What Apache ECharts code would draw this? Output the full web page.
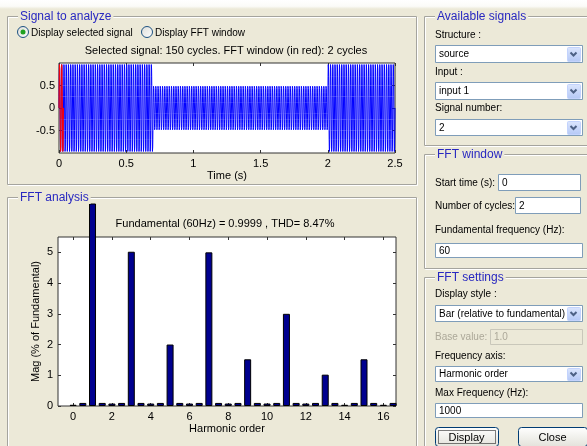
<!DOCTYPE html>
<html>
<head>
<meta charset="utf-8">
<script src="https://cdn.jsdelivr.net/npm/echarts@6/dist/echarts.min.js"></script>
<style>
html, body { margin: 0; padding: 0; background: #ECE9D8; }
#chart { width: 587px; height: 446px; }
</style>
</head>
<body>
<div id="chart"></div>
<script>
// selected signal: piecewise amplitude of the 60 Hz wave
const segStart = [0, 0.7, 2.0];
const segEnd = [0.7, 2.0, 2.5];
const segAmp = [1, 0.5, 1];
const fundHz = 60;
const fftCycles = 2;
const sigTicks = [-0.5, 0, 0.5];

// FFT analysis: harmonic order and magnitude (% of fundamental)
const harmOrder = [0, 0.5, 1, 1.5, 2, 2.5, 3, 3.5, 4, 4.5, 5, 5.5, 6, 6.5, 7, 7.5, 8, 8.5,
    9, 9.5, 10, 10.5, 11, 11.5, 12, 12.5, 13, 13.5, 14, 14.5, 15, 15.5, 16, 16.5];
const harmMag = [0.04, 0.1, 100, 0.1, 0.08, 0.1, 5.02, 0.1, 0.08, 0.1, 2.0, 0.1, 0.08, 0.1,
    5.0, 0.1, 0.08, 0.1, 1.52, 0.1, 0.08, 0.1, 3.0, 0.1, 0.08, 0.1, 1.02, 0.1, 0.04, 0.1,
    1.52, 0.1, 0.04, 0.1];
const harmTicks = [0, 2, 4, 6, 8, 10, 12, 14, 16];
const magTicks = [0, 1, 2, 3, 4, 5];

const FONT = '"Liberation Sans", Arial, sans-serif';
const GUI = '10px ' + FONT;
const BEIGE = '#ECE9D8';

// sine samples for the signal plot
const sps = 24;
function wave(t0, t1, amp) {
    const pts = [];
    const dt = 1 / (fundHz * sps);
    for (let t = t0; t <= t1 + 1e-9; t += dt) {
        pts.push([t, amp * Math.sin(2 * Math.PI * fundHz * t)]);
    }
    return pts;
}
let sigData = [];
segStart.forEach((s, i) => { sigData = sigData.concat(wave(s, segEnd[i], segAmp[i])); });
const winData = wave(0, fftCycles / fundHz, segAmp[0]);

// ---- GUI decoration helpers ----
function text(x, y, str, opt) {
    return {
        type: 'text', x: x, y: y, silent: true, z: 10,
        style: Object.assign({ text: str, font: GUI, fill: '#000', verticalAlign: 'middle' }, opt || {})
    };
}
function panel(x, y, w, h, title) {
    return [
        { type: 'rect', silent: true, shape: { x: x + 1.5, y: y + 1.5, width: w, height: h }, style: { fill: null, stroke: '#fff' } },
        { type: 'rect', silent: true, shape: { x: x + 0.5, y: y + 0.5, width: w, height: h }, style: { fill: null, stroke: '#A5A49E' } },
        text(x + 11, y + 1, title, { font: '12px ' + FONT, fill: '#2828C0', backgroundColor: BEIGE, padding: [0, 2] })
    ];
}
function editBox(x, y, w, h, str, disabled) {
    return [
        { type: 'rect', silent: true, shape: { x: x + 0.5, y: y + 0.5, width: w, height: h },
          style: { fill: disabled ? BEIGE : '#fff', stroke: disabled ? '#C9C7BA' : '#7F9DB9' } },
        text(x + 4, y + h / 2 + 1, str, { fill: disabled ? '#ACA899' : '#000' })
    ];
}
function dropdown(x, y, w, h, str) {
    const bx = x + w - 15, by = y + 2, bw = 13, bh = h - 3;
    const cx = bx + bw / 2, cy = by + bh / 2;
    return editBox(x, y, w, h, str).concat([
        { type: 'rect', silent: true, shape: { x: bx + 0.5, y: by + 0.5, width: bw, height: bh, r: 1 },
          style: { fill: new echarts.graphic.LinearGradient(0, 0, 0, 1, [{ offset: 0, color: '#DCE6FD' }, { offset: 1, color: '#B4C8F6' }]), stroke: '#C3D3FD' } },
        { type: 'polyline', silent: true, shape: { points: [[cx - 3, cy - 1.5], [cx, cy + 1.5], [cx + 3, cy - 1.5]] },
          style: { stroke: '#4D6185', lineWidth: 2, fill: null } }
    ]);
}
function radio(cx, cy, str, on) {
    const els = [
        { type: 'circle', silent: true, shape: { cx: cx, cy: cy, r: 5.5 },
          style: { fill: new echarts.graphic.LinearGradient(0, 0, 1, 1, [{ offset: 0, color: '#DCDCD7' }, { offset: 1, color: '#fff' }]), stroke: '#1C5180' } },
        text(cx + 8, cy + 1, str)
    ];
    if (on) els.push({ type: 'circle', silent: true, shape: { cx: cx, cy: cy, r: 2.5 }, style: { fill: '#21A121' } });
    return els;
}
function button(x, y, w, h, str, focus) {
    const els = [
        { type: 'rect', silent: true, shape: { x: x + 0.5, y: y + 0.5, width: w, height: h, r: 3 },
          style: { fill: new echarts.graphic.LinearGradient(0, 0, 0, 1, [{ offset: 0, color: '#FFFFFF' }, { offset: 1, color: '#E3E2DA' }]), stroke: '#003C74' } },
        text(x + w / 2, y + h / 2 + 1, str, { align: 'center', font: '11px ' + FONT })
    ];
    if (focus) els.push({ type: 'rect', silent: true, shape: { x: x + 3.5, y: y + 3.5, width: w - 6, height: h - 6 },
        style: { fill: null, stroke: '#000', lineDash: [1, 1] } });
    return els;
}

let gui = [];
gui.push({ type: 'rect', silent: true, shape: { x: 0, y: 0, width: 587, height: 9 },
    style: { fill: new echarts.graphic.LinearGradient(0, 0, 0, 1, [{ offset: 0, color: '#FFFFFF' }, { offset: 0.7, color: '#FBFBF8' }, { offset: 1, color: BEIGE }]) } });
gui = gui.concat(panel(7, 16, 409, 168, 'Signal to analyze'));
gui = gui.concat(panel(7, 197, 409, 260, 'FFT analysis'));
gui = gui.concat(panel(424, 16, 180, 129, 'Available signals'));
gui = gui.concat(panel(424, 154, 180, 114, 'FFT window'));
gui = gui.concat(panel(424, 277, 180, 180, 'FFT settings'));

gui = gui.concat(radio(23, 32, 'Display selected signal', true));
gui = gui.concat(radio(147, 32, 'Display FFT window', false));
gui.push(text(226, 51, 'Selected signal: 150 cycles. FFT window (in red): 2 cycles', { align: 'center', font: '11px ' + FONT }));
gui.push(text(225, 224, 'Fundamental (60Hz) = 0.9999 , THD= 8.47%', { align: 'center', font: '11px ' + FONT }));

gui.push(text(435, 35, 'Structure :'));
gui = gui.concat(dropdown(435, 45, 147, 17, 'source'));
gui.push(text(435, 72, 'Input :'));
gui = gui.concat(dropdown(435, 82, 147, 17, 'input 1'));
gui.push(text(435, 108, 'Signal number:'));
gui = gui.concat(dropdown(435, 119, 147, 16, '2'));

gui.push(text(435, 183, 'Start time (s):'));
gui = gui.concat(editBox(498, 174, 82, 16, '0'));
gui.push(text(435, 206, 'Number of cycles:'));
gui = gui.concat(editBox(515, 197, 65, 16, '2'));
gui.push(text(435, 230, 'Fundamental frequency (Hz):'));
gui = gui.concat(editBox(435, 243, 147, 14, '60'));

gui.push(text(435, 294, 'Display style :'));
gui = gui.concat(dropdown(435, 305, 147, 16, 'Bar (relative to fundamental)'));
gui.push(text(435, 337, 'Base value:', { fill: '#ACA899' }));
gui = gui.concat(editBox(490, 329, 92, 15, '1.0', true));
gui.push(text(435, 356, 'Frequency axis:'));
gui = gui.concat(dropdown(435, 366, 147, 15, 'Harmonic order'));
gui.push(text(435, 393, 'Max Frequency (Hz):'));
gui = gui.concat(editBox(435, 403, 147, 14, '1000'));
gui = gui.concat(button(435, 427, 63, 19, 'Display', true));
gui = gui.concat(button(518, 427, 69, 19, 'Close', false));

// ---- chart ----
const AX = '#333';
const lbl = { color: '#000', fontSize: 11, fontFamily: FONT };
const tickIn = { show: true, inside: true, length: 3, lineStyle: { color: AX } };
const noLine = { show: false, onZero: false };
function mirrorX(grid, min, max, ticks) {
    return { gridIndex: grid, type: 'value', position: 'top', min: min, max: max,
        axisLine: noLine, splitLine: { show: false }, axisLabel: { show: false },
        axisTick: Object.assign({ customValues: ticks }, tickIn) };
}
function mirrorY(grid, min, max, ticks) {
    return { gridIndex: grid, type: 'value', position: 'right', min: min, max: max,
        axisLine: noLine, splitLine: { show: false }, axisLabel: { show: false },
        axisTick: Object.assign({ customValues: ticks }, tickIn) };
}

const fftTop = 237, fftH = 169, barTop = 204;
const magMax = 5.5;
const timeTicks = [0, 0.5, 1, 1.5, 2, 2.5];

const option = {
    animation: false,
    graphic: { elements: gui },
    grid: [
        { left: 59, top: 63, width: 336, height: 90, show: true, backgroundColor: '#fff', borderColor: AX, borderWidth: 1 },
        { left: 58, top: fftTop, width: 338, height: fftH, show: true, backgroundColor: '#fff', borderColor: AX, borderWidth: 1 },
        // same scale as grid 1, taller so the fundamental bar shows above the axes box
        { left: 58, top: barTop, width: 338, height: fftTop + fftH - barTop, show: false }
    ],
    xAxis: [
        { gridIndex: 0, type: 'value', min: 0, max: 2.5, interval: 0.5,
          axisLine: noLine, splitLine: { show: false },
          axisTick: tickIn, axisLabel: Object.assign({ margin: 5 }, lbl),
          name: 'Time (s)', nameLocation: 'middle', nameGap: 17, nameTextStyle: lbl },
        mirrorX(0, 0, 2.5, timeTicks),
        { gridIndex: 1, type: 'value', min: -0.78, max: 16.65,
          axisLine: noLine, splitLine: { show: false },
          axisTick: Object.assign({ customValues: harmTicks }, tickIn),
          axisLabel: Object.assign({ margin: 5, customValues: harmTicks }, lbl),
          name: 'Harmonic order', nameLocation: 'middle', nameGap: 17, nameTextStyle: lbl },
        mirrorX(1, -0.78, 16.65, harmTicks),
        { gridIndex: 2, type: 'value', min: -0.78, max: 16.65, show: false }
    ],
    yAxis: [
        { gridIndex: 0, type: 'value', min: -1, max: 1,
          axisLine: noLine, splitLine: { show: false },
          axisTick: Object.assign({ customValues: sigTicks }, tickIn),
          axisLabel: Object.assign({ margin: 4, customValues: sigTicks }, lbl) },
        mirrorY(0, -1, 1, sigTicks),
        { gridIndex: 1, type: 'value', min: 0, max: magMax,
          axisLine: noLine, splitLine: { show: false },
          axisTick: Object.assign({ customValues: magTicks }, tickIn),
          axisLabel: Object.assign({ margin: 5, customValues: magTicks }, lbl),
          name: 'Mag (% of Fundamental)', nameLocation: 'middle', nameGap: 17, nameMoveOverlap: false,
          nameTextStyle: lbl },
        mirrorY(1, 0, magMax, magTicks),
        { gridIndex: 2, type: 'value', min: 0, max: magMax * (fftTop + fftH - barTop) / fftH, show: false }
    ],
    series: [
        { type: 'line', xAxisIndex: 0, yAxisIndex: 0, data: sigData, showSymbol: false, symbol: 'none',
          lineStyle: { color: '#0000FF', width: 1 }, clip: true, z: 2 },
        { type: 'line', xAxisIndex: 0, yAxisIndex: 0, data: winData, showSymbol: false, symbol: 'none',
          lineStyle: { color: '#FF0000', width: 1 }, clip: true, z: 3 },
        { type: 'bar', xAxisIndex: 4, yAxisIndex: 4, data: harmOrder.map((h, i) => [h, harmMag[i]]),
          barWidth: 7, clip: true,
          itemStyle: { color: '#00008F', borderColor: '#000', borderWidth: 1 } }
    ]
};

const myChart = echarts.init(document.getElementById('chart'), null, { renderer: 'canvas' });
myChart.setOption(option);
</script>
</body>
</html>
